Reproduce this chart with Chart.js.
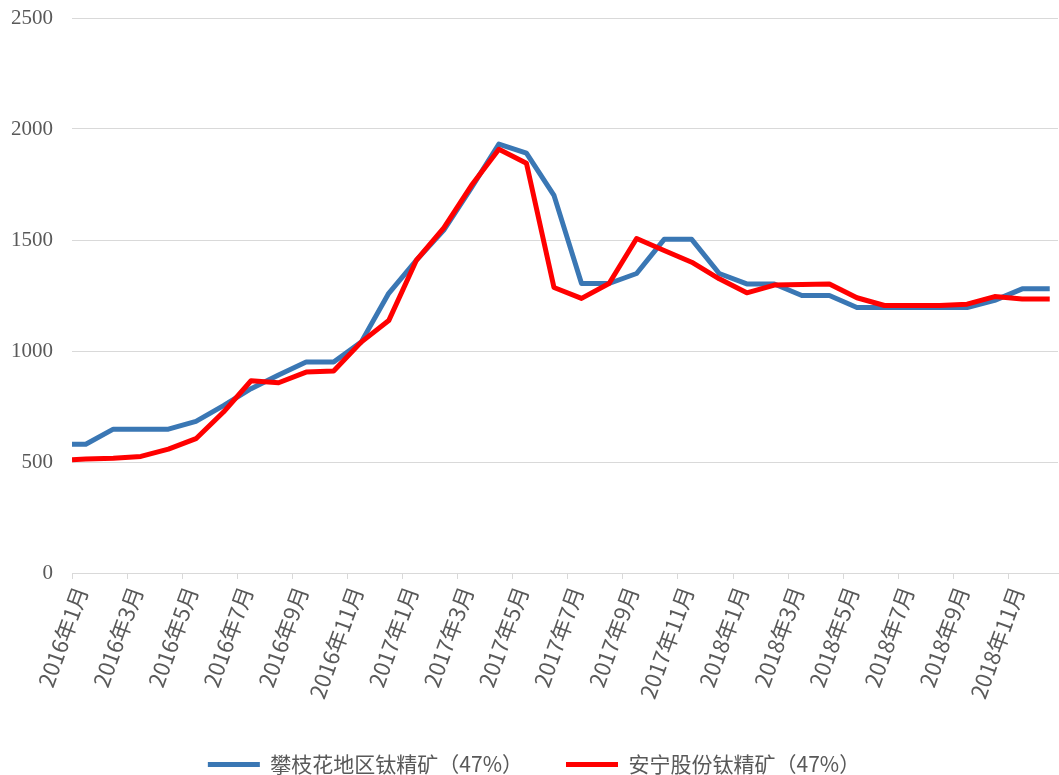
<!DOCTYPE html>
<html lang="zh">
<head>
  <meta charset="UTF-8">
  <title>钛精矿价格走势</title>
  <script src="https://cdn.jsdelivr.net/npm/chart.js"></script>
  <style>
    body {
      margin: 0;
      padding: 0;
      background: #ffffff;
    }
    #priceChart {
      display: block;
    }
  </style>
</head>
<body>
  <canvas id="priceChart" width="1059" height="775"></canvas>
  <script>
    // x position in months from 2016年1月 (0 = start of axis)
    const xPos = [0, 0.5, 1.5, 2.5, 3.5, 4.5, 5.5, 6.5, 7.5, 8.5, 9.5, 10.5, 11.5, 12.5, 13.5, 14.5, 15.5, 16.5, 17.5,
      18.5, 19.5, 20.5, 21.5, 22.5, 23.5, 24.5, 25.5, 26.5, 27.5, 28.5, 29.5, 30.5, 31.5, 32.5, 33.5, 34.5, 35.5];

    const panzhihua = [580, 580, 648, 648, 648, 683, 754, 830, 892, 950, 950, 1040, 1260, 1408, 1545, 1735, 1932, 1891, 1701,
      1304, 1304, 1349, 1503, 1503, 1349, 1302, 1302, 1250, 1250, 1196, 1196, 1196, 1196, 1196, 1228, 1280, 1280];

    const anning = [510, 513, 517, 525, 558, 605, 725, 866, 857, 905, 910, 1040, 1137, 1408, 1555, 1745, 1909, 1846, 1286,
      1237, 1304, 1507, 1453, 1400, 1325, 1262, 1297, 1300, 1302, 1240, 1205, 1205, 1205, 1211, 1245, 1234, 1234];

    const tickMonths = [0, 2, 4, 6, 8, 10, 12, 14, 16, 18, 20, 22, 24, 26, 28, 30, 32, 34];
    const tickLabels = ['2016年1月', '2016年3月', '2016年5月', '2016年7月', '2016年9月', '2016年11月',
      '2017年1月', '2017年3月', '2017年5月', '2017年7月', '2017年9月', '2017年11月',
      '2018年1月', '2018年3月', '2018年5月', '2018年7月', '2018年9月', '2018年11月'];

    const seriesNames = ['攀枝花地区钛精矿（47%）', '安宁股份钛精矿（47%）'];

    function toPoints(vals) {
      return vals.map((v, i) => ({ x: xPos[i], y: v }));
    }

    const grey = '#595959';

    new Chart(document.getElementById('priceChart'), {
      type: 'line',
      data: {
        datasets: [{
          label: seriesNames[0],
          data: toPoints(panzhihua),
          borderColor: '#3a77b4',
          backgroundColor: '#3a77b4',
          borderWidth: 5,
          pointRadius: 0,
          borderJoinStyle: 'round',
          order: 1
        }, {
          label: seriesNames[1],
          data: toPoints(anning),
          borderColor: '#ff0000',
          backgroundColor: '#ff0000',
          borderWidth: 5,
          pointRadius: 0,
          borderJoinStyle: 'round',
          order: 0
        }]
      },
      options: {
        responsive: false,
        devicePixelRatio: 1,
        animation: false,
        layout: {
          padding: { left: 10, right: 1, top: 18, bottom: -10 }
        },
        plugins: {
          tooltip: { enabled: false },
          legend: {
            position: 'bottom',
            labels: {
              usePointStyle: true,
              pointStyle: 'line',
              pointStyleWidth: 52,
              padding: 43,
              color: grey,
              font: { family: '"Noto Sans CJK SC", sans-serif', size: 21 },
              sort: (a, b) => a.datasetIndex - b.datasetIndex
            }
          }
        },
        scales: {
          x: {
            type: 'linear',
            min: 0,
            max: 35.8,
            afterBuildTicks: (scale) => {
              scale.ticks = tickMonths.map(v => ({ value: v }));
            },
            afterFit: (scale) => {
              scale.paddingLeft = 0;
              scale.paddingRight = 0;
              scale.height = 138;
            },
            grid: {
              drawOnChartArea: false,
              drawTicks: true,
              tickLength: 6,
              color: '#d9d9d9'
            },
            border: { color: '#d9d9d9' },
            ticks: {
              autoSkip: false,
              minRotation: 70,
              maxRotation: 70,
              labelOffset: 9,
              padding: 4,
              color: grey,
              font: { family: '"Noto Sans CJK SC", sans-serif', size: 22 },
              callback: (value, index) => tickLabels[index]
            }
          },
          y: {
            min: 0,
            max: 2500,
            afterFit: (scale) => {
              scale.width = 62;
              scale.paddingTop = 0;
              scale.paddingBottom = 0;
            },
            grid: {
              color: '#d9d9d9',
              drawTicks: false
            },
            border: { display: false },
            ticks: {
              stepSize: 500,
              padding: 19,
              color: grey,
              font: { family: '"Liberation Serif", serif', size: 21 },
              callback: (value) => String(value)
            }
          }
        }
      }
    });
  </script>
</body>
</html>
